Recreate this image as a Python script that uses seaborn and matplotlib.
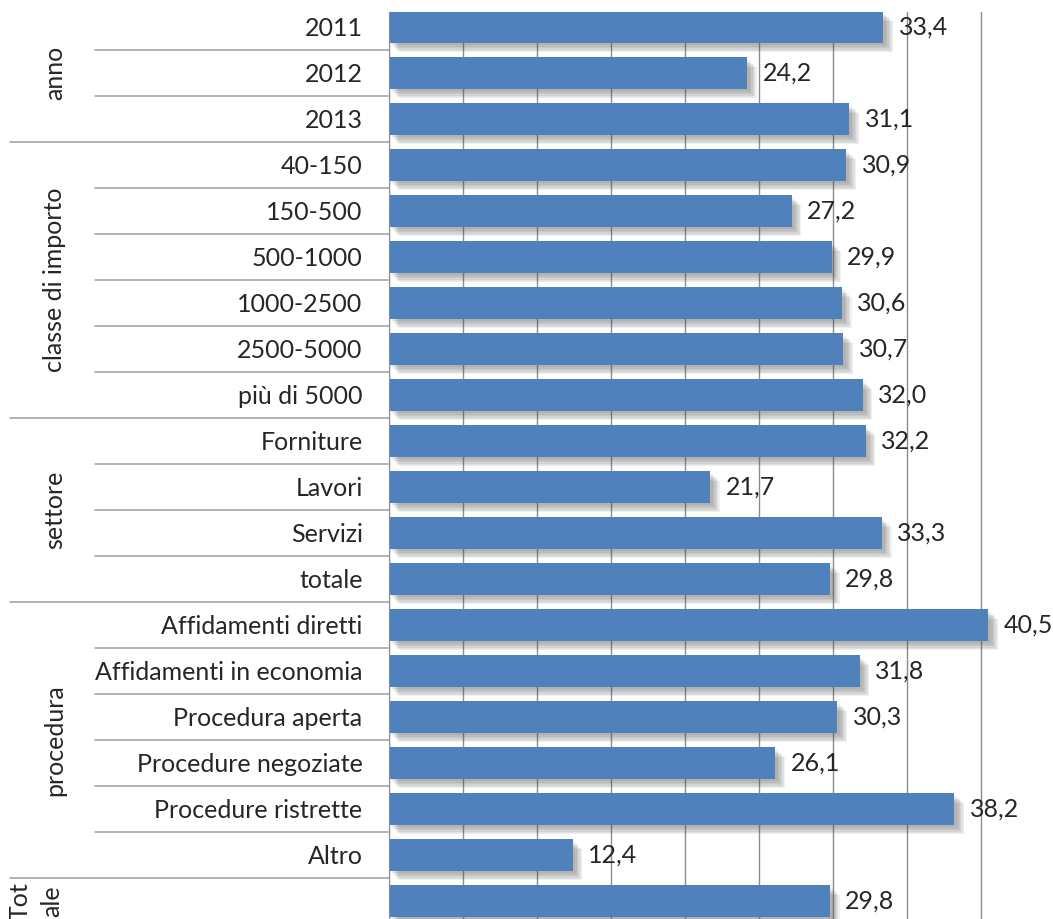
import matplotlib
matplotlib.use("Agg")
import matplotlib.pyplot as plt
import matplotlib.patheffects as pe
import matplotlib.transforms as mtransforms
from matplotlib.lines import Line2D
import pandas as pd
import seaborn as sns

# data
group_labels = ["anno", "classe di importo", "settore", "procedura", "Tot\nale"]
anno_cats = ["2011", "2012", "2013"]
anno_vals = [33.4, 24.2, 31.1]
classe_cats = ["40-150", "150-500", "500-1000", "1000-2500", "2500-5000", "più di 5000"]
classe_vals = [30.9, 27.2, 29.9, 30.6, 30.7, 32.0]
settore_cats = ["Forniture", "Lavori", "Servizi", "totale"]
settore_vals = [32.2, 21.7, 33.3, 29.8]
procedura_cats = ["Affidamenti diretti", "Affidamenti in economia", "Procedura aperta",
                  "Procedure negoziate", "Procedure ristrette", "Altro"]
procedura_vals = [40.5, 31.8, 30.3, 26.1, 38.2, 12.4]
totale_cats = [""]
totale_vals = [29.8]

all_cats = [anno_cats, classe_cats, settore_cats, procedura_cats, totale_cats]
all_vals = [anno_vals, classe_vals, settore_vals, procedura_vals, totale_vals]

rows = []
for g, cats, vals in zip(group_labels, all_cats, all_vals):
    for c, v in zip(cats, vals):
        rows.append({"group": g, "category": c, "value": v})
df = pd.DataFrame(rows)
df["pos"] = range(len(df))
n = len(df)

sns.set_style("white")
plt.rcParams["font.family"] = ["Lato", "DejaVu Sans"]
FS = 18
TXT = "#262626"
W, H = 1053, 919

fig = plt.figure(figsize=(W / 100, H / 100), dpi=100)
ax = fig.add_axes([389 / W, -5 / H, 666 / W, 912 / H])

sns.barplot(data=df, x="value", y="pos", orient="h", color="#4F81BD",
            saturation=1, width=0.68, linewidth=0, edgecolor="#4F81BD", ax=ax)

# soft drop shadow under each bar
shadow = [pe.SimplePatchShadow(offset=(o, -o), shadow_rgbFace="#505050", alpha=0.09)
          for o in (2, 3, 4, 5, 6, 7)] + [pe.Normal()]
for p in ax.patches:
    p.set_path_effects(shadow)

labels = [f"{v:.1f}".replace(".", ",") for v in df["value"]]
ax.bar_label(ax.containers[0], labels=labels, padding=11, fontsize=FS, color=TXT)

ax.set_xlim(0, 45)
ax.set_ylim(n - 0.5, -0.5 + 8 / 46)
ax.set_xticks(range(0, 46, 5))
ax.set_xticklabels([])
ax.xaxis.grid(True, color="#8c8c8c", lw=1)
ax.set_axisbelow(True)
ax.set_yticks(range(n))
ax.set_yticklabels(df["category"], fontsize=FS, color=TXT)
ax.tick_params(axis="y", length=0, pad=19)
ax.tick_params(axis="x", length=0)
ax.set_xlabel("")
ax.set_ylabel("")
for s in ["top", "right", "bottom"]:
    ax.spines[s].set_visible(False)
ax.spines["left"].set_color("#8c8c8c")

# separator lines and group labels on the left
trans = mtransforms.blended_transform_factory(fig.transFigure, ax.transData)
sizes = [len(c) for c in all_cats]
start = 0
for g, sz in zip(group_labels, sizes):
    for k in range(start, start + sz):
        if k == n - 1:
            continue
        boundary = k + 0.5
        x0 = 10 / W if k == start + sz - 1 else 95 / W
        fig.add_artist(Line2D([x0, 389 / W], [boundary, boundary], transform=trans,
                              color="#a6a6a6", lw=1.2))
    center = start + (sz - 1) / 2
    xg = 55 / W if "\n" not in g else 36 / W
    ax.text(xg, center, g, transform=trans, rotation=90, ha="center", va="center",
            fontsize=FS, color=TXT, linespacing=1.45, multialignment="center")
    start += sz

fig.savefig("out.png", dpi=100)
